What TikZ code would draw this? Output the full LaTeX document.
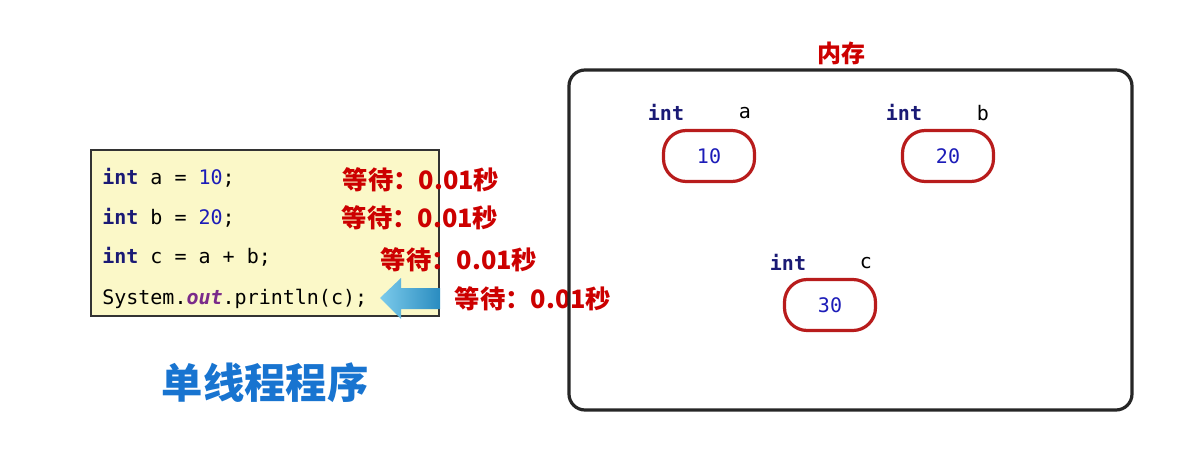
\documentclass[tikz,border=0pt]{standalone}
\usepackage{fontspec}
\setmonofont{DejaVu Sans Mono}
\newfontfamily\cjk{Noto Sans CJK SC}
\definecolor{codebg}{HTML}{FBF8C8}
\definecolor{codeline}{HTML}{333333}
\definecolor{kw}{HTML}{1A1A75}
\definecolor{num}{HTML}{1C1CB8}
\definecolor{purp}{HTML}{7A2A8A}
\definecolor{waitred}{HTML}{CC0000}
\definecolor{varred}{HTML}{B81C1C}
\definecolor{titleblue}{HTML}{1874D0}
\definecolor{arrowlight}{HTML}{7CCBEB}
\definecolor{arrowdark}{HTML}{2A8CC0}
\tikzset{
  codetext/.style={anchor=west, inner sep=0pt, font=\ttfamily\fontsize{15}{18}\selectfont, text height=0.75em, text depth=0.2em},
  waittext/.style={inner sep=0pt, text=waitred, font=\cjk\bfseries\fontsize{19}{22}\selectfont},
  varbox/.style={draw=varred, line width=2.4pt, rounded corners=17pt, minimum width=91pt*0.75, minimum height=51pt*0.75, inner sep=0pt, font=\ttfamily\fontsize{15}{18}\selectfont, text=num},
  kwlabel/.style={inner sep=0pt, text=kw, font=\ttfamily\bfseries\fontsize{15}{18}\selectfont},
  namelabel/.style={inner sep=0pt, font=\ttfamily\fontsize{15}{18}\selectfont}
}
\begin{document}
\begin{tikzpicture}[x=0.75pt,y=-0.75pt]
\useasboundingbox (0,0) rectangle (1183,453);
% code box
\node[draw=codeline, fill=codebg, line width=0.9pt, minimum width=348*0.75pt, minimum height=166*0.75pt, inner sep=0pt] (code) at (265,233) {};
\node[codetext] (l1) at (102,181) {\textcolor{kw}{\textbf{int}} a = \textcolor{num}{10};};
\node[codetext] (l2) at (102,221) {\textcolor{kw}{\textbf{int}} b = \textcolor{num}{20};};
\node[codetext] (l3) at (102,260) {\textcolor{kw}{\textbf{int}} c = a + b;};
\node[codetext] (l4) at (102,301) {System.\textcolor{purp}{\textit{\textbf{out}}}.println(c);};
% arrow
\shade[left color=arrowlight, right color=arrowdark, shading angle=90]
  (380,298) -- (401,278) -- (401,288) -- (440,288) -- (440,309) -- (401,309) -- (401,319) -- cycle;
% wait labels
\node[waittext] (w1) at (421,180) {等待：0.01秒};
\node[waittext] (w2) at (420,218) {等待：0.01秒};
\node[waittext] (w3) at (459,260) {等待：0.01秒};
\node[waittext] (w4) at (533,299) {等待：0.01秒};
% title
\node[inner sep=0pt, text=titleblue, font=\cjk\bfseries\fontsize{31}{35}\selectfont] (title) at (265,383) {单线程程序};
% memory
\node[draw=black!85, line width=2.4pt, rounded corners=12pt, minimum width=563*0.75pt, minimum height=340*0.75pt, inner sep=0pt] (mem) at (850.5,240) {};
\node[waittext, font=\cjk\bfseries\fontsize{18}{22}\selectfont] (memlabel) at (841,53) {内存};
\node[varbox] (va) at (709,156) {10};
\node[varbox] (vb) at (948,156) {20};
\node[varbox] (vc) at (830,305) {30};
\node[kwlabel] (ta) at (666,112) {int};
\node[namelabel] (na) at (745,113) {a};
\node[kwlabel] (tb) at (904,112) {int};
\node[namelabel] (nb) at (983,113) {b};
\node[kwlabel] (tc) at (788,262) {int};
\node[namelabel] (nc) at (866,263) {c};
\end{tikzpicture}
\end{document}
